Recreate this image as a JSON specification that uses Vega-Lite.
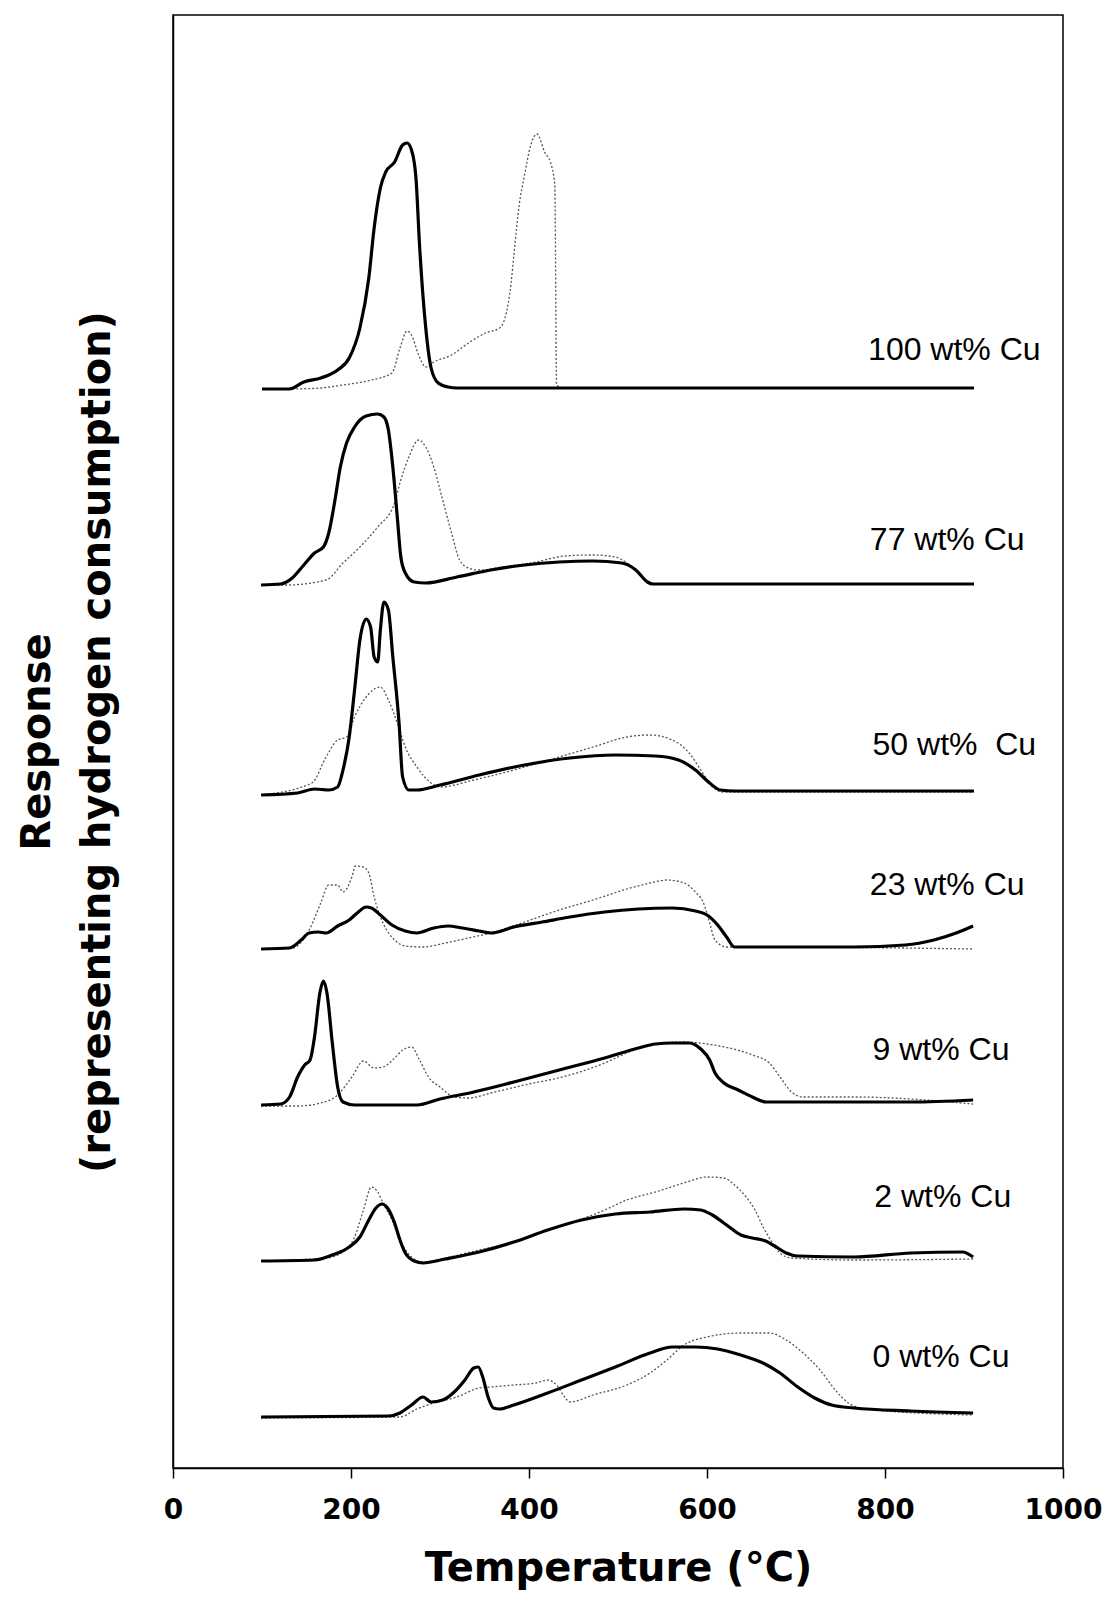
{
  "$schema": "https://vega.github.io/schema/vega-lite/v6.json",
  "width": 890,
  "height": 1453,
  "autosize": "none",
  "padding": {"left": 173, "top": 15, "right": 42, "bottom": 130},
  "background": "white",
  "config": {
    "view": {"stroke": "black", "strokeWidth": 1.5},
    "axis": {"grid": false, "domainColor": "black", "domainWidth": 1.5, "tickColor": "black", "tickWidth": 1.5, "labelColor": "black", "titleColor": "black"}
  },
  "datasets": {
    "curves": [
      {"sample":"100 wt% Cu","run":"A","temp":100,"resp":1079},{"sample":"100 wt% Cu","run":"A","temp":131,"resp":1079},{"sample":"100 wt% Cu","run":"A","temp":147,"resp":1086},{"sample":"100 wt% Cu","run":"A","temp":166,"resp":1090},{"sample":"100 wt% Cu","run":"A","temp":185,"resp":1098},{"sample":"100 wt% Cu","run":"A","temp":198,"resp":1110},{"sample":"100 wt% Cu","run":"A","temp":210,"resp":1140},{"sample":"100 wt% Cu","run":"A","temp":220,"resp":1190},{"sample":"100 wt% Cu","run":"A","temp":226,"resp":1240},{"sample":"100 wt% Cu","run":"A","temp":233,"resp":1280},{"sample":"100 wt% Cu","run":"A","temp":239,"resp":1296},{"sample":"100 wt% Cu","run":"A","temp":249,"resp":1306},{"sample":"100 wt% Cu","run":"A","temp":258,"resp":1323},{"sample":"100 wt% Cu","run":"A","temp":263,"resp":1325},{"sample":"100 wt% Cu","run":"A","temp":268,"resp":1318},{"sample":"100 wt% Cu","run":"A","temp":273,"resp":1290},{"sample":"100 wt% Cu","run":"A","temp":277,"resp":1223},{"sample":"100 wt% Cu","run":"A","temp":284,"resp":1140},{"sample":"100 wt% Cu","run":"A","temp":290,"resp":1100},{"sample":"100 wt% Cu","run":"A","temp":298,"resp":1085},{"sample":"100 wt% Cu","run":"A","temp":309,"resp":1081},{"sample":"100 wt% Cu","run":"A","temp":319,"resp":1080},{"sample":"100 wt% Cu","run":"A","temp":900,"resp":1080},
      {"sample":"100 wt% Cu","run":"B","temp":134,"resp":1079},{"sample":"100 wt% Cu","run":"B","temp":166,"resp":1080},{"sample":"100 wt% Cu","run":"B","temp":191,"resp":1083},{"sample":"100 wt% Cu","run":"B","temp":223,"resp":1088},{"sample":"100 wt% Cu","run":"B","temp":246,"resp":1095},{"sample":"100 wt% Cu","run":"B","temp":255,"resp":1120},{"sample":"100 wt% Cu","run":"B","temp":263,"resp":1137},{"sample":"100 wt% Cu","run":"B","temp":268,"resp":1133},{"sample":"100 wt% Cu","run":"B","temp":276,"resp":1113},{"sample":"100 wt% Cu","run":"B","temp":284,"resp":1101},{"sample":"100 wt% Cu","run":"B","temp":293,"resp":1106},{"sample":"100 wt% Cu","run":"B","temp":313,"resp":1113},{"sample":"100 wt% Cu","run":"B","temp":332,"resp":1125},{"sample":"100 wt% Cu","run":"B","temp":351,"resp":1135},{"sample":"100 wt% Cu","run":"B","temp":367,"resp":1140},{"sample":"100 wt% Cu","run":"B","temp":373,"resp":1150},{"sample":"100 wt% Cu","run":"B","temp":380,"resp":1186},{"sample":"100 wt% Cu","run":"B","temp":383,"resp":1213},{"sample":"100 wt% Cu","run":"B","temp":389,"resp":1263},{"sample":"100 wt% Cu","run":"B","temp":395,"resp":1293},{"sample":"100 wt% Cu","run":"B","temp":402,"resp":1323},{"sample":"100 wt% Cu","run":"B","temp":409,"resp":1334},{"sample":"100 wt% Cu","run":"B","temp":418,"resp":1315},{"sample":"100 wt% Cu","run":"B","temp":424,"resp":1306},{"sample":"100 wt% Cu","run":"B","temp":429,"resp":1283},{"sample":"100 wt% Cu","run":"B","temp":431,"resp":1083},{"sample":"100 wt% Cu","run":"B","temp":440,"resp":1080},{"sample":"100 wt% Cu","run":"B","temp":900,"resp":1080},
      {"sample":"77 wt% Cu","run":"A","temp":99,"resp":883},{"sample":"77 wt% Cu","run":"A","temp":121,"resp":884},{"sample":"77 wt% Cu","run":"A","temp":134,"resp":890},{"sample":"77 wt% Cu","run":"A","temp":147,"resp":903},{"sample":"77 wt% Cu","run":"A","temp":159,"resp":915},{"sample":"77 wt% Cu","run":"A","temp":169,"resp":921},{"sample":"77 wt% Cu","run":"A","temp":175,"resp":935},{"sample":"77 wt% Cu","run":"A","temp":182,"resp":968},{"sample":"77 wt% Cu","run":"A","temp":188,"resp":1001},{"sample":"77 wt% Cu","run":"A","temp":195,"resp":1025},{"sample":"77 wt% Cu","run":"A","temp":204,"resp":1041},{"sample":"77 wt% Cu","run":"A","temp":217,"resp":1052},{"sample":"77 wt% Cu","run":"A","temp":230,"resp":1054},{"sample":"77 wt% Cu","run":"A","temp":237,"resp":1051},{"sample":"77 wt% Cu","run":"A","temp":242,"resp":1038},{"sample":"77 wt% Cu","run":"A","temp":247,"resp":1001},{"sample":"77 wt% Cu","run":"A","temp":252,"resp":951},{"sample":"77 wt% Cu","run":"A","temp":256,"resp":911},{"sample":"77 wt% Cu","run":"A","temp":261,"resp":895},{"sample":"77 wt% Cu","run":"A","temp":271,"resp":886},{"sample":"77 wt% Cu","run":"A","temp":284,"resp":885},{"sample":"77 wt% Cu","run":"A","temp":319,"resp":891},{"sample":"77 wt% Cu","run":"A","temp":357,"resp":898},{"sample":"77 wt% Cu","run":"A","temp":395,"resp":903},{"sample":"77 wt% Cu","run":"A","temp":434,"resp":906},{"sample":"77 wt% Cu","run":"A","temp":472,"resp":907},{"sample":"77 wt% Cu","run":"A","temp":504,"resp":905},{"sample":"77 wt% Cu","run":"A","temp":520,"resp":898},{"sample":"77 wt% Cu","run":"A","temp":533,"resp":886},{"sample":"77 wt% Cu","run":"A","temp":539,"resp":884},{"sample":"77 wt% Cu","run":"A","temp":900,"resp":884},
      {"sample":"77 wt% Cu","run":"B","temp":99,"resp":883},{"sample":"77 wt% Cu","run":"B","temp":128,"resp":883},{"sample":"77 wt% Cu","run":"B","temp":172,"resp":888},{"sample":"77 wt% Cu","run":"B","temp":191,"resp":905},{"sample":"77 wt% Cu","run":"B","temp":210,"resp":921},{"sample":"77 wt% Cu","run":"B","temp":230,"resp":941},{"sample":"77 wt% Cu","run":"B","temp":249,"resp":965},{"sample":"77 wt% Cu","run":"B","temp":255,"resp":985},{"sample":"77 wt% Cu","run":"B","temp":265,"resp":1011},{"sample":"77 wt% Cu","run":"B","temp":276,"resp":1028},{"sample":"77 wt% Cu","run":"B","temp":284,"resp":1021},{"sample":"77 wt% Cu","run":"B","temp":293,"resp":1001},{"sample":"77 wt% Cu","run":"B","temp":303,"resp":968},{"sample":"77 wt% Cu","run":"B","temp":313,"resp":935},{"sample":"77 wt% Cu","run":"B","temp":322,"resp":908},{"sample":"77 wt% Cu","run":"B","temp":332,"resp":900},{"sample":"77 wt% Cu","run":"B","temp":344,"resp":898},{"sample":"77 wt% Cu","run":"B","temp":370,"resp":901},{"sample":"77 wt% Cu","run":"B","temp":408,"resp":906},{"sample":"77 wt% Cu","run":"B","temp":440,"resp":912},{"sample":"77 wt% Cu","run":"B","temp":472,"resp":913},{"sample":"77 wt% Cu","run":"B","temp":497,"resp":911},{"sample":"77 wt% Cu","run":"B","temp":510,"resp":905},{"sample":"77 wt% Cu","run":"B","temp":523,"resp":895},{"sample":"77 wt% Cu","run":"B","temp":536,"resp":885},{"sample":"77 wt% Cu","run":"B","temp":545,"resp":884},{"sample":"77 wt% Cu","run":"B","temp":900,"resp":884},
      {"sample":"50 wt% Cu","run":"A","temp":99,"resp":673},{"sample":"50 wt% Cu","run":"A","temp":140,"resp":675},{"sample":"50 wt% Cu","run":"A","temp":159,"resp":679},{"sample":"50 wt% Cu","run":"A","temp":175,"resp":678},{"sample":"50 wt% Cu","run":"A","temp":185,"resp":681},{"sample":"50 wt% Cu","run":"A","temp":191,"resp":698},{"sample":"50 wt% Cu","run":"A","temp":198,"resp":731},{"sample":"50 wt% Cu","run":"A","temp":204,"resp":778},{"sample":"50 wt% Cu","run":"A","temp":210,"resp":828},{"sample":"50 wt% Cu","run":"A","temp":217,"resp":849},{"sample":"50 wt% Cu","run":"A","temp":222,"resp":841},{"sample":"50 wt% Cu","run":"A","temp":226,"resp":811},{"sample":"50 wt% Cu","run":"A","temp":230,"resp":806},{"sample":"50 wt% Cu","run":"A","temp":233,"resp":838},{"sample":"50 wt% Cu","run":"A","temp":237,"resp":866},{"sample":"50 wt% Cu","run":"A","temp":242,"resp":858},{"sample":"50 wt% Cu","run":"A","temp":247,"resp":811},{"sample":"50 wt% Cu","run":"A","temp":254,"resp":745},{"sample":"50 wt% Cu","run":"A","temp":258,"resp":691},{"sample":"50 wt% Cu","run":"A","temp":265,"resp":678},{"sample":"50 wt% Cu","run":"A","temp":274,"resp":678},{"sample":"50 wt% Cu","run":"A","temp":300,"resp":683},{"sample":"50 wt% Cu","run":"A","temp":344,"resp":693},{"sample":"50 wt% Cu","run":"A","temp":395,"resp":703},{"sample":"50 wt% Cu","run":"A","temp":446,"resp":710},{"sample":"50 wt% Cu","run":"A","temp":497,"resp":713},{"sample":"50 wt% Cu","run":"A","temp":542,"resp":712},{"sample":"50 wt% Cu","run":"A","temp":568,"resp":708},{"sample":"50 wt% Cu","run":"A","temp":587,"resp":698},{"sample":"50 wt% Cu","run":"A","temp":603,"resp":685},{"sample":"50 wt% Cu","run":"A","temp":615,"resp":678},{"sample":"50 wt% Cu","run":"A","temp":631,"resp":677},{"sample":"50 wt% Cu","run":"A","temp":900,"resp":677},
      {"sample":"50 wt% Cu","run":"B","temp":99,"resp":673},{"sample":"50 wt% Cu","run":"B","temp":156,"resp":685},{"sample":"50 wt% Cu","run":"B","temp":172,"resp":711},{"sample":"50 wt% Cu","run":"B","temp":185,"resp":728},{"sample":"50 wt% Cu","run":"B","temp":195,"resp":731},{"sample":"50 wt% Cu","run":"B","temp":204,"resp":751},{"sample":"50 wt% Cu","run":"B","temp":217,"resp":771},{"sample":"50 wt% Cu","run":"B","temp":233,"resp":781},{"sample":"50 wt% Cu","run":"B","temp":242,"resp":768},{"sample":"50 wt% Cu","run":"B","temp":252,"resp":745},{"sample":"50 wt% Cu","run":"B","temp":261,"resp":721},{"sample":"50 wt% Cu","run":"B","temp":274,"resp":701},{"sample":"50 wt% Cu","run":"B","temp":290,"resp":685},{"sample":"50 wt% Cu","run":"B","temp":300,"resp":681},{"sample":"50 wt% Cu","run":"B","temp":338,"resp":688},{"sample":"50 wt% Cu","run":"B","temp":383,"resp":698},{"sample":"50 wt% Cu","run":"B","temp":434,"resp":711},{"sample":"50 wt% Cu","run":"B","temp":472,"resp":721},{"sample":"50 wt% Cu","run":"B","temp":510,"resp":731},{"sample":"50 wt% Cu","run":"B","temp":536,"resp":733},{"sample":"50 wt% Cu","run":"B","temp":561,"resp":728},{"sample":"50 wt% Cu","run":"B","temp":580,"resp":715},{"sample":"50 wt% Cu","run":"B","temp":593,"resp":698},{"sample":"50 wt% Cu","run":"B","temp":606,"resp":681},{"sample":"50 wt% Cu","run":"B","temp":619,"resp":676},{"sample":"50 wt% Cu","run":"B","temp":900,"resp":676},
      {"sample":"23 wt% Cu","run":"A","temp":99,"resp":519},{"sample":"23 wt% Cu","run":"A","temp":131,"resp":520},{"sample":"23 wt% Cu","run":"A","temp":144,"resp":528},{"sample":"23 wt% Cu","run":"A","temp":153,"resp":535},{"sample":"23 wt% Cu","run":"A","temp":163,"resp":536},{"sample":"23 wt% Cu","run":"A","temp":172,"resp":535},{"sample":"23 wt% Cu","run":"A","temp":185,"resp":542},{"sample":"23 wt% Cu","run":"A","temp":198,"resp":548},{"sample":"23 wt% Cu","run":"A","temp":207,"resp":555},{"sample":"23 wt% Cu","run":"A","temp":217,"resp":561},{"sample":"23 wt% Cu","run":"A","temp":223,"resp":560},{"sample":"23 wt% Cu","run":"A","temp":233,"resp":553},{"sample":"23 wt% Cu","run":"A","temp":246,"resp":543},{"sample":"23 wt% Cu","run":"A","temp":261,"resp":537},{"sample":"23 wt% Cu","run":"A","temp":274,"resp":535},{"sample":"23 wt% Cu","run":"A","temp":293,"resp":540},{"sample":"23 wt% Cu","run":"A","temp":309,"resp":542},{"sample":"23 wt% Cu","run":"A","temp":325,"resp":540},{"sample":"23 wt% Cu","run":"A","temp":344,"resp":537},{"sample":"23 wt% Cu","run":"A","temp":357,"resp":535},{"sample":"23 wt% Cu","run":"A","temp":383,"resp":541},{"sample":"23 wt% Cu","run":"A","temp":415,"resp":546},{"sample":"23 wt% Cu","run":"A","temp":446,"resp":551},{"sample":"23 wt% Cu","run":"A","temp":485,"resp":556},{"sample":"23 wt% Cu","run":"A","temp":523,"resp":559},{"sample":"23 wt% Cu","run":"A","temp":561,"resp":560},{"sample":"23 wt% Cu","run":"A","temp":587,"resp":557},{"sample":"23 wt% Cu","run":"A","temp":600,"resp":553},{"sample":"23 wt% Cu","run":"A","temp":612,"resp":543},{"sample":"23 wt% Cu","run":"A","temp":622,"resp":531},{"sample":"23 wt% Cu","run":"A","temp":631,"resp":521},{"sample":"23 wt% Cu","run":"A","temp":670,"resp":521},{"sample":"23 wt% Cu","run":"A","temp":765,"resp":521},{"sample":"23 wt% Cu","run":"A","temp":823,"resp":523},{"sample":"23 wt% Cu","run":"A","temp":855,"resp":528},{"sample":"23 wt% Cu","run":"A","temp":880,"resp":535},{"sample":"23 wt% Cu","run":"A","temp":899,"resp":542},
      {"sample":"23 wt% Cu","run":"B","temp":99,"resp":519},{"sample":"23 wt% Cu","run":"B","temp":134,"resp":520},{"sample":"23 wt% Cu","run":"B","temp":153,"resp":538},{"sample":"23 wt% Cu","run":"B","temp":166,"resp":565},{"sample":"23 wt% Cu","run":"B","temp":175,"resp":583},{"sample":"23 wt% Cu","run":"B","temp":185,"resp":583},{"sample":"23 wt% Cu","run":"B","temp":191,"resp":576},{"sample":"23 wt% Cu","run":"B","temp":201,"resp":591},{"sample":"23 wt% Cu","run":"B","temp":205,"resp":602},{"sample":"23 wt% Cu","run":"B","temp":214,"resp":601},{"sample":"23 wt% Cu","run":"B","temp":220,"resp":595},{"sample":"23 wt% Cu","run":"B","temp":226,"resp":571},{"sample":"23 wt% Cu","run":"B","temp":236,"resp":545},{"sample":"23 wt% Cu","run":"B","temp":249,"resp":528},{"sample":"23 wt% Cu","run":"B","temp":261,"resp":522},{"sample":"23 wt% Cu","run":"B","temp":281,"resp":521},{"sample":"23 wt% Cu","run":"B","temp":306,"resp":525},{"sample":"23 wt% Cu","run":"B","temp":332,"resp":530},{"sample":"23 wt% Cu","run":"B","temp":357,"resp":535},{"sample":"23 wt% Cu","run":"B","temp":395,"resp":546},{"sample":"23 wt% Cu","run":"B","temp":434,"resp":558},{"sample":"23 wt% Cu","run":"B","temp":472,"resp":568},{"sample":"23 wt% Cu","run":"B","temp":510,"resp":579},{"sample":"23 wt% Cu","run":"B","temp":536,"resp":585},{"sample":"23 wt% Cu","run":"B","temp":555,"resp":588},{"sample":"23 wt% Cu","run":"B","temp":574,"resp":585},{"sample":"23 wt% Cu","run":"B","temp":587,"resp":576},{"sample":"23 wt% Cu","run":"B","temp":596,"resp":565},{"sample":"23 wt% Cu","run":"B","temp":603,"resp":545},{"sample":"23 wt% Cu","run":"B","temp":609,"resp":528},{"sample":"23 wt% Cu","run":"B","temp":622,"resp":521},{"sample":"23 wt% Cu","run":"B","temp":670,"resp":521},{"sample":"23 wt% Cu","run":"B","temp":899,"resp":519},
      {"sample":"9 wt% Cu","run":"A","temp":99,"resp":363},{"sample":"9 wt% Cu","run":"A","temp":121,"resp":364},{"sample":"9 wt% Cu","run":"A","temp":131,"resp":371},{"sample":"9 wt% Cu","run":"A","temp":140,"resp":391},{"sample":"9 wt% Cu","run":"A","temp":148,"resp":403},{"sample":"9 wt% Cu","run":"A","temp":154,"resp":408},{"sample":"9 wt% Cu","run":"A","temp":159,"resp":431},{"sample":"9 wt% Cu","run":"A","temp":165,"resp":475},{"sample":"9 wt% Cu","run":"A","temp":169,"resp":487},{"sample":"9 wt% Cu","run":"A","temp":173,"resp":475},{"sample":"9 wt% Cu","run":"A","temp":179,"resp":425},{"sample":"9 wt% Cu","run":"A","temp":185,"resp":381},{"sample":"9 wt% Cu","run":"A","temp":191,"resp":366},{"sample":"9 wt% Cu","run":"A","temp":204,"resp":363},{"sample":"9 wt% Cu","run":"A","temp":242,"resp":363},{"sample":"9 wt% Cu","run":"A","temp":274,"resp":363},{"sample":"9 wt% Cu","run":"A","temp":300,"resp":369},{"sample":"9 wt% Cu","run":"A","temp":338,"resp":376},{"sample":"9 wt% Cu","run":"A","temp":383,"resp":386},{"sample":"9 wt% Cu","run":"A","temp":434,"resp":398},{"sample":"9 wt% Cu","run":"A","temp":485,"resp":410},{"sample":"9 wt% Cu","run":"A","temp":523,"resp":420},{"sample":"9 wt% Cu","run":"A","temp":542,"resp":424},{"sample":"9 wt% Cu","run":"A","temp":561,"resp":425},{"sample":"9 wt% Cu","run":"A","temp":580,"resp":425},{"sample":"9 wt% Cu","run":"A","temp":593,"resp":419},{"sample":"9 wt% Cu","run":"A","temp":603,"resp":408},{"sample":"9 wt% Cu","run":"A","temp":609,"resp":395},{"sample":"9 wt% Cu","run":"A","temp":619,"resp":385},{"sample":"9 wt% Cu","run":"A","temp":635,"resp":378},{"sample":"9 wt% Cu","run":"A","temp":651,"resp":371},{"sample":"9 wt% Cu","run":"A","temp":666,"resp":366},{"sample":"9 wt% Cu","run":"A","temp":702,"resp":366},{"sample":"9 wt% Cu","run":"A","temp":829,"resp":366},{"sample":"9 wt% Cu","run":"A","temp":899,"resp":368},
      {"sample":"9 wt% Cu","run":"B","temp":99,"resp":362},{"sample":"9 wt% Cu","run":"B","temp":140,"resp":362},{"sample":"9 wt% Cu","run":"B","temp":166,"resp":365},{"sample":"9 wt% Cu","run":"B","temp":185,"resp":373},{"sample":"9 wt% Cu","run":"B","temp":201,"resp":391},{"sample":"9 wt% Cu","run":"B","temp":214,"resp":407},{"sample":"9 wt% Cu","run":"B","temp":226,"resp":400},{"sample":"9 wt% Cu","run":"B","temp":236,"resp":401},{"sample":"9 wt% Cu","run":"B","temp":249,"resp":410},{"sample":"9 wt% Cu","run":"B","temp":258,"resp":418},{"sample":"9 wt% Cu","run":"B","temp":268,"resp":421},{"sample":"9 wt% Cu","run":"B","temp":277,"resp":408},{"sample":"9 wt% Cu","run":"B","temp":287,"resp":391},{"sample":"9 wt% Cu","run":"B","temp":300,"resp":381},{"sample":"9 wt% Cu","run":"B","temp":316,"resp":371},{"sample":"9 wt% Cu","run":"B","temp":332,"resp":370},{"sample":"9 wt% Cu","run":"B","temp":357,"resp":375},{"sample":"9 wt% Cu","run":"B","temp":395,"resp":383},{"sample":"9 wt% Cu","run":"B","temp":446,"resp":393},{"sample":"9 wt% Cu","run":"B","temp":485,"resp":405},{"sample":"9 wt% Cu","run":"B","temp":510,"resp":415},{"sample":"9 wt% Cu","run":"B","temp":536,"resp":423},{"sample":"9 wt% Cu","run":"B","temp":574,"resp":426},{"sample":"9 wt% Cu","run":"B","temp":600,"resp":424},{"sample":"9 wt% Cu","run":"B","temp":625,"resp":420},{"sample":"9 wt% Cu","run":"B","temp":651,"resp":413},{"sample":"9 wt% Cu","run":"B","temp":670,"resp":405},{"sample":"9 wt% Cu","run":"B","temp":682,"resp":391},{"sample":"9 wt% Cu","run":"B","temp":695,"resp":376},{"sample":"9 wt% Cu","run":"B","temp":708,"resp":371},{"sample":"9 wt% Cu","run":"B","temp":765,"resp":371},{"sample":"9 wt% Cu","run":"B","temp":899,"resp":364},
      {"sample":"2 wt% Cu","run":"A","temp":99,"resp":207},{"sample":"2 wt% Cu","run":"A","temp":159,"resp":208},{"sample":"2 wt% Cu","run":"A","temp":179,"resp":213},{"sample":"2 wt% Cu","run":"A","temp":198,"resp":221},{"sample":"2 wt% Cu","run":"A","temp":210,"resp":231},{"sample":"2 wt% Cu","run":"A","temp":220,"resp":248},{"sample":"2 wt% Cu","run":"A","temp":228,"resp":260},{"sample":"2 wt% Cu","run":"A","temp":235,"resp":264},{"sample":"2 wt% Cu","run":"A","temp":241,"resp":260},{"sample":"2 wt% Cu","run":"A","temp":249,"resp":245},{"sample":"2 wt% Cu","run":"A","temp":255,"resp":228},{"sample":"2 wt% Cu","run":"A","temp":261,"resp":215},{"sample":"2 wt% Cu","run":"A","temp":271,"resp":207},{"sample":"2 wt% Cu","run":"A","temp":281,"resp":205},{"sample":"2 wt% Cu","run":"A","temp":306,"resp":209},{"sample":"2 wt% Cu","run":"A","temp":344,"resp":216},{"sample":"2 wt% Cu","run":"A","temp":383,"resp":226},{"sample":"2 wt% Cu","run":"A","temp":421,"resp":238},{"sample":"2 wt% Cu","run":"A","temp":459,"resp":248},{"sample":"2 wt% Cu","run":"A","temp":497,"resp":254},{"sample":"2 wt% Cu","run":"A","temp":536,"resp":256},{"sample":"2 wt% Cu","run":"A","temp":574,"resp":259},{"sample":"2 wt% Cu","run":"A","temp":593,"resp":258},{"sample":"2 wt% Cu","run":"A","temp":606,"resp":253},{"sample":"2 wt% Cu","run":"A","temp":622,"resp":243},{"sample":"2 wt% Cu","run":"A","temp":638,"resp":233},{"sample":"2 wt% Cu","run":"A","temp":651,"resp":230},{"sample":"2 wt% Cu","run":"A","temp":666,"resp":227},{"sample":"2 wt% Cu","run":"A","temp":676,"resp":222},{"sample":"2 wt% Cu","run":"A","temp":689,"resp":215},{"sample":"2 wt% Cu","run":"A","temp":702,"resp":212},{"sample":"2 wt% Cu","run":"A","temp":765,"resp":211},{"sample":"2 wt% Cu","run":"A","temp":829,"resp":215},{"sample":"2 wt% Cu","run":"A","temp":887,"resp":216},{"sample":"2 wt% Cu","run":"A","temp":899,"resp":211},
      {"sample":"2 wt% Cu","run":"B","temp":99,"resp":207},{"sample":"2 wt% Cu","run":"B","temp":172,"resp":210},{"sample":"2 wt% Cu","run":"B","temp":191,"resp":216},{"sample":"2 wt% Cu","run":"B","temp":204,"resp":231},{"sample":"2 wt% Cu","run":"B","temp":214,"resp":258},{"sample":"2 wt% Cu","run":"B","temp":223,"resp":281},{"sample":"2 wt% Cu","run":"B","temp":230,"resp":276},{"sample":"2 wt% Cu","run":"B","temp":236,"resp":265},{"sample":"2 wt% Cu","run":"B","temp":246,"resp":248},{"sample":"2 wt% Cu","run":"B","temp":255,"resp":228},{"sample":"2 wt% Cu","run":"B","temp":268,"resp":211},{"sample":"2 wt% Cu","run":"B","temp":281,"resp":206},{"sample":"2 wt% Cu","run":"B","temp":306,"resp":210},{"sample":"2 wt% Cu","run":"B","temp":344,"resp":218},{"sample":"2 wt% Cu","run":"B","temp":383,"resp":226},{"sample":"2 wt% Cu","run":"B","temp":421,"resp":238},{"sample":"2 wt% Cu","run":"B","temp":459,"resp":249},{"sample":"2 wt% Cu","run":"B","temp":485,"resp":258},{"sample":"2 wt% Cu","run":"B","temp":510,"resp":268},{"sample":"2 wt% Cu","run":"B","temp":542,"resp":276},{"sample":"2 wt% Cu","run":"B","temp":574,"resp":285},{"sample":"2 wt% Cu","run":"B","temp":600,"resp":291},{"sample":"2 wt% Cu","run":"B","temp":619,"resp":290},{"sample":"2 wt% Cu","run":"B","temp":631,"resp":283},{"sample":"2 wt% Cu","run":"B","temp":644,"resp":271},{"sample":"2 wt% Cu","run":"B","temp":654,"resp":258},{"sample":"2 wt% Cu","run":"B","temp":663,"resp":241},{"sample":"2 wt% Cu","run":"B","temp":673,"resp":226},{"sample":"2 wt% Cu","run":"B","temp":682,"resp":215},{"sample":"2 wt% Cu","run":"B","temp":695,"resp":210},{"sample":"2 wt% Cu","run":"B","temp":765,"resp":208},{"sample":"2 wt% Cu","run":"B","temp":899,"resp":209},
      {"sample":"0 wt% Cu","run":"A","temp":99,"resp":51},{"sample":"0 wt% Cu","run":"A","temp":242,"resp":52},{"sample":"0 wt% Cu","run":"A","temp":255,"resp":55},{"sample":"0 wt% Cu","run":"A","temp":268,"resp":63},{"sample":"0 wt% Cu","run":"A","temp":281,"resp":71},{"sample":"0 wt% Cu","run":"A","temp":290,"resp":66},{"sample":"0 wt% Cu","run":"A","temp":303,"resp":68},{"sample":"0 wt% Cu","run":"A","temp":316,"resp":76},{"sample":"0 wt% Cu","run":"A","temp":328,"resp":88},{"sample":"0 wt% Cu","run":"A","temp":338,"resp":100},{"sample":"0 wt% Cu","run":"A","temp":343,"resp":101},{"sample":"0 wt% Cu","run":"A","temp":348,"resp":91},{"sample":"0 wt% Cu","run":"A","temp":354,"resp":71},{"sample":"0 wt% Cu","run":"A","temp":360,"resp":60},{"sample":"0 wt% Cu","run":"A","temp":367,"resp":59},{"sample":"0 wt% Cu","run":"A","temp":383,"resp":63},{"sample":"0 wt% Cu","run":"A","temp":421,"resp":75},{"sample":"0 wt% Cu","run":"A","temp":459,"resp":88},{"sample":"0 wt% Cu","run":"A","temp":497,"resp":101},{"sample":"0 wt% Cu","run":"A","temp":536,"resp":115},{"sample":"0 wt% Cu","run":"A","temp":561,"resp":121},{"sample":"0 wt% Cu","run":"A","temp":587,"resp":121},{"sample":"0 wt% Cu","run":"A","temp":612,"resp":119},{"sample":"0 wt% Cu","run":"A","temp":638,"resp":113},{"sample":"0 wt% Cu","run":"A","temp":663,"resp":105},{"sample":"0 wt% Cu","run":"A","temp":682,"resp":95},{"sample":"0 wt% Cu","run":"A","temp":702,"resp":81},{"sample":"0 wt% Cu","run":"A","temp":721,"resp":70},{"sample":"0 wt% Cu","run":"A","temp":740,"resp":63},{"sample":"0 wt% Cu","run":"A","temp":765,"resp":60},{"sample":"0 wt% Cu","run":"A","temp":829,"resp":57},{"sample":"0 wt% Cu","run":"A","temp":899,"resp":55},
      {"sample":"0 wt% Cu","run":"B","temp":99,"resp":50},{"sample":"0 wt% Cu","run":"B","temp":255,"resp":51},{"sample":"0 wt% Cu","run":"B","temp":274,"resp":59},{"sample":"0 wt% Cu","run":"B","temp":293,"resp":65},{"sample":"0 wt% Cu","run":"B","temp":319,"resp":71},{"sample":"0 wt% Cu","run":"B","temp":344,"resp":80},{"sample":"0 wt% Cu","run":"B","temp":357,"resp":81},{"sample":"0 wt% Cu","run":"B","temp":383,"resp":83},{"sample":"0 wt% Cu","run":"B","temp":408,"resp":85},{"sample":"0 wt% Cu","run":"B","temp":421,"resp":88},{"sample":"0 wt% Cu","run":"B","temp":431,"resp":83},{"sample":"0 wt% Cu","run":"B","temp":440,"resp":71},{"sample":"0 wt% Cu","run":"B","temp":446,"resp":66},{"sample":"0 wt% Cu","run":"B","temp":472,"resp":73},{"sample":"0 wt% Cu","run":"B","temp":510,"resp":83},{"sample":"0 wt% Cu","run":"B","temp":536,"resp":95},{"sample":"0 wt% Cu","run":"B","temp":555,"resp":108},{"sample":"0 wt% Cu","run":"B","temp":574,"resp":123},{"sample":"0 wt% Cu","run":"B","temp":600,"resp":131},{"sample":"0 wt% Cu","run":"B","temp":638,"resp":135},{"sample":"0 wt% Cu","run":"B","temp":670,"resp":135},{"sample":"0 wt% Cu","run":"B","temp":689,"resp":128},{"sample":"0 wt% Cu","run":"B","temp":708,"resp":115},{"sample":"0 wt% Cu","run":"B","temp":727,"resp":98},{"sample":"0 wt% Cu","run":"B","temp":746,"resp":76},{"sample":"0 wt% Cu","run":"B","temp":759,"resp":65},{"sample":"0 wt% Cu","run":"B","temp":778,"resp":59},{"sample":"0 wt% Cu","run":"B","temp":899,"resp":53}
    ],
    "labels": [
      {"label":"100 wt% Cu","temp":781,"resp":1118},
      {"label":"77 wt% Cu","temp":783,"resp":928},
      {"label":"50 wt%\u00a0 Cu","temp":786,"resp":723},
      {"label":"23 wt% Cu","temp":783,"resp":583},
      {"label":"9 wt% Cu","temp":786,"resp":418},
      {"label":"2 wt% Cu","temp":788,"resp":271},
      {"label":"0 wt% Cu","temp":786,"resp":111}
    ]
  },
  "encoding": {
    "x": {"field": "temp", "type": "quantitative",
      "scale": {"domain": [0, 1000], "nice": false},
      "axis": {"values": [0, 200, 400, 600, 800, 1000], "format": "d", "tickSize": 10, "labelPadding": 18,
        "labelFont": "DejaVu Sans", "labelFontWeight": "bold", "labelFontSize": 28, "labelFlush": false, "labelOverlap": false,
        "title": "Temperature (°C)", "titleFont": "DejaVu Sans", "titleFontWeight": "bold", "titleFontSize": 40, "titlePadding": 24}},
    "y": {"field": "resp", "type": "quantitative",
      "scale": {"domain": [0, 1453], "nice": false, "zero": false},
      "axis": {"ticks": false, "labels": false, "domain": true,
        "title": ["Response", "(representing hydrogen consumption)"],
        "titleFont": "DejaVu Sans", "titleFontWeight": "bold", "titleFontSize": 40, "titleLineHeight": 60, "titlePadding": 56}}
  },
  "layer": [
    {
      "data": {"name": "curves"},
      "transform": [{"filter": "datum.run === 'B'"}],
      "mark": {"type": "line", "color": "#555555", "strokeWidth": 1.3, "strokeDash": [2, 2], "interpolate": "monotone"},
      "encoding": {"detail": {"field": "sample", "type": "nominal"}}
    },
    {
      "data": {"name": "curves"},
      "transform": [{"filter": "datum.run === 'A'"}],
      "mark": {"type": "line", "color": "black", "strokeWidth": 3.2, "strokeJoin": "round", "interpolate": "monotone"},
      "encoding": {"detail": {"field": "sample", "type": "nominal"}}
    },
    {
      "data": {"name": "labels"},
      "mark": {"type": "text", "align": "left", "baseline": "middle", "font": "Liberation Sans", "fontSize": 32, "color": "black"},
      "encoding": {"text": {"field": "label", "type": "nominal"}}
    }
  ]
}
